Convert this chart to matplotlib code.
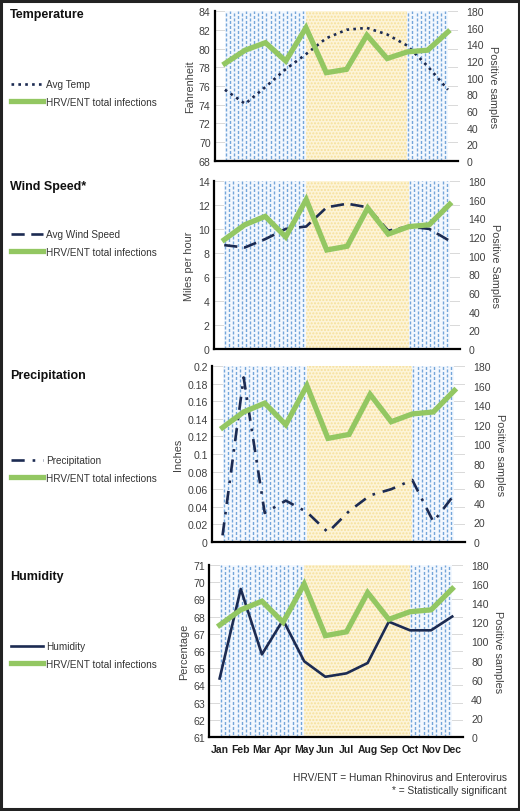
import numpy as np
import matplotlib
matplotlib.use("Agg")
import matplotlib.pyplot as plt
from matplotlib.lines import Line2D
from matplotlib.patches import Rectangle

plt.rcParams['font.family'] = ['Liberation Sans', 'DejaVu Sans']

# data
months = ['Jan', 'Feb', 'Mar', 'Apr', 'May', 'Jun', 'Jul', 'Aug', 'Sep', 'Oct', 'Nov', 'Dec']
hrv_ent = [117, 133, 142, 120, 160, 106, 110, 151, 123, 131, 133, 155]
avg_temp = [75.6, 74.1, 75.9, 77.8, 79.4, 81.1, 82.0, 82.2, 81.5, 80.3, 78.1, 75.6]
wind_speed = [8.65, 8.45, 9.15, 10.0, 10.2, 11.8, 12.1, 11.8, 9.85, 10.2, 10.0, 9.0]
precip = [0.0075, 0.187, 0.033, 0.047, 0.034, 0.011, 0.035, 0.053, 0.060, 0.0705, 0.023, 0.054]
humidity = [64.4, 69.6, 65.8, 67.8, 65.4, 64.5, 64.7, 65.3, 67.7, 67.2, 67.2, 68.0]

NAVY = '#1c2b52'
GREEN = '#93c762'
TXT = '#404040'

fig = plt.figure(figsize=(5.2, 8.12), dpi=100)
x = np.arange(len(months))

panels = [
    # (title, title_y, rect, values, style, label, ylim, ystep, ylabel, rlabel, legend_y)
    ('Temperature', 15, [0.413, 0.8005, 0.468, 0.1847], avg_temp, (0, (1, 1.6)),
     'Avg Temp', (68, 84), 2, 'Fahrenheit', 'Positive samples', 94),
    ('Wind Speed*', 187, [0.4115, 0.569, 0.473, 0.207], wind_speed, (0, (5, 2.5)),
     'Avg Wind Speed', (0, 14), 2, 'Miles per hour', 'Positive Samples', 244),
    ('Precipitation', 376, [0.4077, 0.3313, 0.4865, 0.2167], precip, (0, (5, 3, 1, 3)),
     'Precipitation', (0, 0.2), 0.02, 'Inches', 'Positive samples', 470),
    ('Humidity', 577, [0.402, 0.0911, 0.488, 0.212], humidity, '-',
     'Humidity', (61, 71), 1, 'Percentage', 'Positive samples', 656),
]

H = 812.0
for i, (title, ty, rect, vals, ls, lab, ylim, ystep, ylabel, rlabel, ly) in enumerate(panels):
    ax = fig.add_axes(rect)
    ax.set_xlim(-0.5, 11.5)
    ax.set_ylim(*ylim)
    ticks = np.arange(ylim[0], ylim[1] + ystep / 2, ystep)
    ax.set_yticks(ticks)
    if ystep < 1:
        ax.set_yticklabels(['%g' % round(t, 2) for t in ticks])
    ax.grid(axis='y', color='#d9d9d9', lw=0.7, zorder=0)
    ax.set_axisbelow(True)

    # seasonal shading
    ax.axvspan(0, 4, facecolor='#f3f8fe', edgecolor='none', zorder=1)
    ax.axvspan(9, 11, facecolor='#f3f8fe', edgecolor='none', zorder=1)
    ax.axvspan(4, 9, facecolor='#fdf4d8', edgecolor='#f6e09a', hatch='.....', lw=0, zorder=1)
    cols = list(np.arange(0.05, 4, 0.2)) + list(np.arange(9.05, 11, 0.2))
    for k, xs in enumerate(cols):
        ax.axvline(xs, color='#74a6da', lw=1.0, ls=(1.8 * (k % 2), (2.2, 1.4)), zorder=1.5)

    ax.plot(x, vals, color=NAVY, lw=1.9, ls=ls, zorder=3)

    for s in ['top', 'right']:
        ax.spines[s].set_visible(False)
    ax.spines['left'].set_linewidth(1.6)
    ax.spines['bottom'].set_linewidth(1.6)
    ax.tick_params(axis='y', length=0, labelsize=7.6, labelcolor=TXT, pad=3)
    ax.set_ylabel(ylabel, fontsize=7.8, color=TXT, labelpad=3)

    ax.set_xticks(x)
    if i == 3:
        ax.set_xticklabels(months, fontsize=7.5, fontweight='bold', color='#222222')
    else:
        ax.set_xticklabels([])
    ax.tick_params(axis='x', length=0, pad=5)

    ax2 = ax.twinx()
    ax2.set_ylim(0, 180)
    ax2.set_yticks(np.arange(0, 181, 20))
    ax2.plot(x, hrv_ent, color=GREEN, lw=3.8, solid_joinstyle='miter', zorder=4)
    for s in ['top', 'right', 'left', 'bottom']:
        ax2.spines[s].set_visible(False)
    ax2.tick_params(axis='y', length=0, labelsize=7.6, labelcolor=TXT, pad=6)
    ax2.set_ylabel(rlabel, fontsize=7.8, color=TXT, rotation=-90, labelpad=10)

    fig.text(10 / 520, 1 - ty / H, title, fontsize=9, fontweight='bold',
             va='center', ha='left', color='#111111')

    handles = [Line2D([], [], color=NAVY, lw=1.9, ls=ls),
               Line2D([], [], color=GREEN, lw=3.8)]
    fig.legend(handles, [lab, 'HRV/ENT total infections'], loc='center left',
               bbox_to_anchor=(2 / 520, 1 - ly / H), frameon=False, fontsize=7.2,
               handlelength=3.2, handletextpad=0.3, labelspacing=0.75,
               labelcolor='#333333')

fig.text(507 / 520, 1 - 778 / H, 'HRV/ENT = Human Rhinovirus and Enterovirus',
         ha='right', va='center', fontsize=7.3, color='#333333')
fig.text(507 / 520, 1 - 791 / H, '* = Statistically significant',
         ha='right', va='center', fontsize=7.3, color='#333333')

fig.patches.append(Rectangle((0.002, 0.002), 0.996, 0.996, transform=fig.transFigure,
                             fill=False, edgecolor='#222222', lw=2.2))

fig.savefig('out.png', dpi=100)
